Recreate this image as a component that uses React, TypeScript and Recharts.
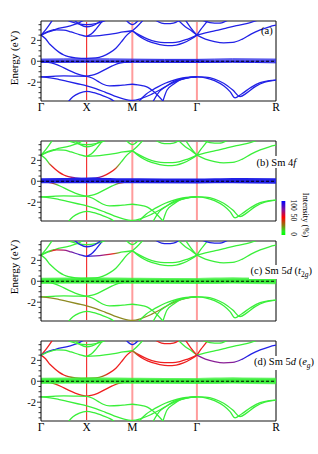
import React from 'react';
import { LineChart, Line, XAxis, YAxis, ReferenceLine } from 'recharts';

const FONT = '"Liberation Serif", "Times New Roman", serif';

// k-path positions (Γ-X-M-Γ-R, cubic)
const kG = 0, kX = 0.5, kM = 1.0, kG2 = 1.7071, kR = 2.5731;
const kTicks = [kG, kX, kM, kG2, kR];
const kLabels = ['Γ', 'X', 'M', 'Γ', 'R'];
const eTicks = [-3.5, -3, -2.5, -2, -1.5, -1, -0.5, 0, 0.5, 1, 1.5, 2, 2.5, 3, 3.5];
const eLabels = [-2, 0, 2];
const eDomain = [-3.8, 3.85];

// bands: [k, E(eV)]
const bandCB = [[0,2.5],[0.05,2.15],[0.1,1.6],[0.15,1.2],[0.2,0.85],[0.25,0.6],[0.3,0.44],[0.38,0.33],[0.5,0.28],[0.6,0.32],[0.68,0.5],[0.75,0.8],[0.82,1.25],[0.88,1.85],[0.94,2.5],[1.0,2.92]];
const bandVV = [[0,-0.05],[0.08,-0.1],[0.15,-0.25],[0.22,-0.5],[0.3,-0.85],[0.38,-1.15],[0.45,-1.35],[0.5,-1.42],[0.55,-1.35],[0.62,-1.15],[0.7,-0.8],[0.78,-0.45],[0.85,-0.2],[0.92,-0.1],[1.0,-0.05]];
const bandVF = [[0,-1.5],[0.12,-1.45],[0.25,-1.4],[0.38,-1.42],[0.5,-1.45],[0.56,-1.6],[0.62,-1.9],[0.68,-2.2],[0.75,-2.35],[0.85,-2.32],[0.93,-2.25],[1.0,-2.2],[1.06,-2.25],[1.12,-2.35],[1.17,-2.5],[1.22,-2.8],[1.28,-3.27],[1.35,-3.95]];
const bandV8 = [[0,-1.5],[0.1,-1.58],[0.2,-1.75],[0.3,-1.95],[0.4,-2.15],[0.5,-2.35],[0.6,-2.62],[0.7,-2.95],[0.8,-3.3],[0.9,-3.6],[1.0,-3.75],[1.1,-3.55],[1.2,-3.2],[1.3,-2.75],[1.4,-2.25],[1.5,-1.85],[1.6,-1.6],[1.7071,-1.5]];
const bandV3 = [[0.29,-3.95],[0.35,-3.4],[0.42,-3.05],[0.5,-2.88],[0.58,-3.0],[0.68,-3.3],[0.76,-3.6],[0.82,-3.95]];
const bandV4 = [[1.06,-3.95],[1.15,-3.15],[1.22,-2.75],[1.28,-2.45],[1.36,-2.1],[1.43,-1.87],[1.55,-1.6],[1.63,-1.52],[1.7071,-1.5]];
const bandV6 = [[1.22,-3.95],[1.3,-2.86],[1.38,-2.35],[1.45,-1.95],[1.55,-1.68],[1.63,-1.55],[1.7071,-1.5]];
const bandV7 = [[1.33,-3.95],[1.38,-2.75],[1.45,-2.2],[1.52,-1.78],[1.6,-1.58],[1.7071,-1.5]];
const bandR1 = [[1.7071,-1.5],[1.8,-1.58],[1.9,-1.85],[2.0,-2.35],[2.07,-2.9],[2.125,-3.5],[2.2,-3.1],[2.3,-2.5],[2.4,-2.05],[2.5,-1.85],[2.5731,-1.8]];
const bandR2 = [[1.7071,-1.5],[1.8,-1.52],[1.9,-1.7],[2.0,-2.1],[2.1,-2.75],[2.18,-3.38],[2.25,-3.05],[2.35,-2.4],[2.45,-2.0],[2.5731,-1.8]];
const bandCU1 = [[0,2.5],[0.05,3.0],[0.1,3.6],[0.13,4.0]];
const bandCU3 = [[0,2.5],[0.08,2.85],[0.16,3.06],[0.31,3.37],[0.42,3.69],[0.47,3.95]];
const bandCU2 = [[0,2.5],[0.08,2.8],[0.17,3.0],[0.25,2.98],[0.33,2.8],[0.42,2.55],[0.5,2.38],[0.6,2.42],[0.7,2.52],[0.8,2.65],[0.9,2.8],[1.0,2.92]];
const bandCXU = [[0.5,2.38],[0.55,2.6],[0.6,3.05],[0.65,3.6],[0.68,3.95]];
const bandCT1 = [[0.28,3.95],[0.4,3.6],[0.5,3.5],[0.6,3.6],[0.72,3.95]];
const bandCT2 = [[0.36,3.95],[0.43,3.5],[0.5,3.3],[0.56,3.38],[0.62,3.65],[0.66,3.95]];
const bandCTM = [[0.93,3.95],[1.0,3.5],[1.07,3.95]];
const bandCMU = [[1.0,2.92],[1.05,3.3],[1.12,3.95]];
const bandCMG1 = [[1.0,2.92],[1.08,2.5],[1.17,2.12],[1.26,1.88],[1.35,1.78],[1.44,1.78],[1.52,1.88],[1.6,2.1],[1.66,2.3],[1.7071,2.5]];
const bandCMG2 = [[1.0,2.92],[1.06,2.5],[1.13,2.1],[1.21,1.8],[1.3,1.6],[1.39,1.5],[1.48,1.55],[1.56,1.75],[1.64,2.1],[1.7071,2.5]];
const bandCTU1 = [[1.25,3.95],[1.32,3.65],[1.38,3.6],[1.45,3.65],[1.52,3.95]];
const bandCGU1 = [[1.5,3.95],[1.58,3.3],[1.65,2.9],[1.7071,2.5]];
const bandCGU2 = [[1.58,3.95],[1.64,3.2],[1.7071,2.5]];
const bandGR1 = [[1.7071,2.5],[1.75,3.05],[1.8,3.6],[1.83,3.95]];
const bandGR2 = [[1.7071,2.5],[1.8,2.72],[1.91,2.92],[2.02,3.15],[2.14,3.4],[2.25,3.6],[2.38,3.95]];
const bandGR3 = [[1.7071,2.5],[1.8,2.12],[1.9,1.88],[2.0,1.76],[2.1,1.8],[2.2,2.1],[2.3,2.6],[2.4,3.0],[2.5,3.3],[2.5731,3.45]];
const bandGRU = [[1.76,3.95],[1.85,3.7],[1.95,3.64],[2.05,3.95]];
const bandF1 = [[0,0.2],[0.25,0.22],[0.5,0.24],[0.75,0.22],[1.0,0.2],[1.35,0.18],[1.7071,0.18],[2.1,0.23],[2.5731,0.2]];
const bandF2 = [[0,0.11],[0.25,0.12],[0.5,0.14],[0.75,0.12],[1.0,0.11],[1.35,0.09],[1.7071,0.08],[2.1,0.13],[2.5731,0.1]];
const bandF3 = [[0,0.03],[0.5,0.05],[1.0,0.03],[1.35,0.02],[1.7071,0.0],[2.1,0.04],[2.5731,0.02]];
const bandF4 = [[0,-0.04],[0.5,-0.03],[1.0,-0.05],[1.7071,-0.06],[2.1,-0.03],[2.5731,-0.07]];
const bandF5 = [[0,-0.11],[0.5,-0.1],[1.0,-0.1],[1.7071,-0.12],[2.1,-0.1],[2.5731,-0.15]];
const fermi = [[0,0],[2.5731,0]];

const bandList: [string, number[][]][] = [
  ['CB', bandCB], ['VV', bandVV], ['VF', bandVF], ['V8', bandV8], ['V3', bandV3], ['V4', bandV4],
  ['V6', bandV6], ['V7', bandV7], ['R1', bandR1], ['R2', bandR2], ['CU1', bandCU1], ['CU3', bandCU3],
  ['CU2', bandCU2], ['CXU', bandCXU], ['CT1', bandCT1], ['CT2', bandCT2], ['CTM', bandCTM], ['CMU', bandCMU],
  ['CMG1', bandCMG1], ['CMG2', bandCMG2], ['CTU1', bandCTU1], ['CGU1', bandCGU1], ['CGU2', bandCGU2],
  ['GR1', bandGR1], ['GR2', bandGR2], ['GR3', bandGR3], ['GRU', bandGRU],
  ['F1', bandF1], ['F2', bandF2], ['F3', bandF3], ['F4', bandF4], ['F5', bandF5],
];

const BLUE = '#2121e6';
const GREEN = '#3aef3a';
const RED = '#ee1f1f';
const PURPLE = '#8a1f96';
const OLIVE = '#8e8a22';

type Spec = string | [number, string][];

const colorsB: Record<string, Spec> = {
  CB: [[0, GREEN], [0.07, GREEN], [0.12, RED], [0.27, RED], [0.35, PURPLE], [0.42, BLUE], [0.58, BLUE], [0.64, PURPLE], [0.7, RED], [0.8, RED], [0.88, GREEN], [1, GREEN]],
  VV: [[0, BLUE], [0.06, PURPLE], [0.11, RED], [0.2, GREEN], [0.8, GREEN], [0.89, RED], [0.94, PURPLE], [1, BLUE]],
};
const colorsC: Record<string, Spec> = {
  CU2: [[0, GREEN], [0.08, GREEN], [0.14, RED], [0.3, PURPLE], [0.5, BLUE], [0.65, PURPLE], [0.78, RED], [0.88, GREEN], [1, GREEN]],
  CXU: BLUE, CT2: BLUE, CTU1: BLUE, GRU: BLUE, V8: OLIVE,
};
const colorsD: Record<string, Spec> = {
  CB: [[0, RED], [0.25, RED], [0.36, OLIVE], [0.5, OLIVE], [0.64, OLIVE], [0.74, RED], [1, RED]],
  VV: [[0, OLIVE], [0.12, OLIVE], [0.2, RED], [0.8, RED], [0.88, OLIVE], [1, OLIVE]],
  CU1: RED, CU3: BLUE, CTM: BLUE, CTU1: RED, CGU2: RED, GR1: RED,
  CMG1: [[1.0, OLIVE], [1.08, RED], [1.7071, RED]],
  CMG2: [[1.0, OLIVE], [1.08, RED], [1.7071, RED]],
  GR3: [[1.7071, PURPLE], [2.1, PURPLE], [2.25, BLUE], [2.5731, BLUE]],
};

const YTick = (props: any) => {
  const { x, y, payload } = props;
  const v = payload.value;
  const major = eLabels.includes(v);
  return (
    <g>
      <line x1={x - (major ? 4 : 2.5)} x2={x} y1={y} y2={y} stroke="#000" strokeWidth={0.8} />
      {major && (
        <text x={x - 5} y={y} dy="0.35em" textAnchor="end" fontSize={10.5} fontFamily={FONT} fill="#000">
          {v}
        </text>
      )}
    </g>
  );
};

function Panel({ id, top, colors, mode, showX }: { id: string; top: number; colors: Record<string, Spec>; mode: string; showX: boolean }) {
  const grads: React.ReactNode[] = [];
  const lines: React.ReactNode[] = [];
  bandList.forEach(([name, pts]) => {
    const isF = name.startsWith('F');
    let spec: Spec = mode === 'a' ? BLUE : colors[name] ?? (isF && mode === 'b' ? BLUE : GREEN);
    let stroke: string;
    if (typeof spec === 'string') {
      stroke = spec;
    } else {
      const k0 = pts[0][0], k1 = pts[pts.length - 1][0];
      const gid = `g-${id}-${name}`;
      grads.push(
        <linearGradient key={gid} id={gid} x1="0" y1="0" x2="1" y2="0">
          {spec.map(([k, c], i) => (
            <stop key={i} offset={Math.min(1, Math.max(0, (k - k0) / (k1 - k0)))} stopColor={c} />
          ))}
        </linearGradient>
      );
      stroke = `url(#${gid})`;
    }
    let w = 1.3;
    let op = 1;
    if (isF) {
      if (mode === 'a') w = 1.0;
      else if (mode === 'b') w = 1.8;
      else { w = 3; op = 0.75; }
    }
    lines.push(
      <Line
        key={name}
        data={pts.map(([k, e]) => ({ k, e }))}
        dataKey="e"
        type="monotone"
        stroke={stroke}
        strokeWidth={w}
        strokeOpacity={op}
        dot={false}
        activeDot={false}
        isAnimationActive={false}
        legendType="none"
      />
    );
  });
  const mt = 5;
  const h = mt + 80 + (showX ? 16 : 5);
  return (
    <div style={{ position: 'absolute', left: 0, top: top - mt }}>
      <LineChart width={318} height={h} margin={{ top: mt, right: 42, bottom: showX ? 0 : 5, left: 0 }}>
        <defs>{grads}</defs>
        <XAxis
          type="number"
          dataKey="k"
          domain={[0, kR]}
          ticks={kTicks}
          interval={0}
          allowDataOverflow
          hide={!showX}
          height={showX ? 16 : 0}
          axisLine={false}
          tickLine={false}
          tickSize={0}
          tickMargin={2}
          tick={{ fontSize: 11.5, fill: '#000', fontFamily: FONT }}
          tickFormatter={(v: number) => kLabels[kTicks.findIndex((t) => Math.abs(t - v) < 1e-3)]}
        />
        <YAxis
          type="number"
          domain={eDomain}
          ticks={eTicks}
          interval={0}
          allowDataOverflow
          width={41}
          tickSize={0}
          tickMargin={0}
          tickLine={false}
          axisLine={{ stroke: '#000', strokeWidth: 1 }}
          tick={<YTick />}
        />
        <ReferenceLine x={kX} stroke="#f01010" strokeWidth={1} />
        <ReferenceLine x={kM} stroke="#ff9c9c" strokeWidth={2} />
        <ReferenceLine x={kG2} stroke="#ff9c9c" strokeWidth={2} />
        <ReferenceLine y={eDomain[1]} stroke="#8a8a8a" strokeWidth={2} />
        <ReferenceLine y={eDomain[0]} stroke="#8a8a8a" strokeWidth={2} />
        <ReferenceLine x={kR} stroke="#000" strokeWidth={1} />
        {lines}
        <Line
          data={fermi.map(([k, e]) => ({ k, e }))}
          dataKey="e"
          stroke="#000"
          strokeWidth={1}
          strokeDasharray="3 2"
          dot={false}
          activeDot={false}
          isAnimationActive={false}
        />
      </LineChart>
    </div>
  );
}

export default function App() {
  const txt = { fontFamily: FONT, fill: '#000' } as const;
  return (
    <div style={{ position: 'absolute', left: 0, top: 0, width: 318, height: 454, background: '#fff', overflow: 'hidden' }}>
      <Panel id="a" top={21} colors={{}} mode="a" showX />
      <Panel id="b" top={141} colors={colorsB} mode="b" showX={false} />
      <Panel id="c" top={241} colors={colorsC} mode="c" showX={false} />
      <Panel id="d" top={341} colors={colorsD} mode="d" showX />
      <svg width={318} height={454} style={{ position: 'absolute', left: 0, top: 0, pointerEvents: 'none' }}>
        <defs>
          <linearGradient id="cbar" x1="0" y1="0" x2="0" y2="1">
            <stop offset="0" stopColor="#0000ff" />
            <stop offset="0.25" stopColor="#8010a0" />
            <stop offset="0.48" stopColor="#ff0000" />
            <stop offset="0.72" stopColor="#8a7a10" />
            <stop offset="0.9" stopColor="#20f020" />
            <stop offset="1" stopColor="#00ff00" />
          </linearGradient>
        </defs>
        <text {...txt} fontSize={11} textAnchor="middle" dominantBaseline="central" transform="rotate(-90 14 58)" x={14} y={58}>Energy (eV)</text>
        <text {...txt} fontSize={11} textAnchor="middle" dominantBaseline="central" transform="rotate(-90 14 267)" x={14} y={267}>Energy (eV)</text>
        <text {...txt} fontSize={10.5} x={261} y={34}>(a)</text>
        <rect x={255} y={156} width={40} height={12} fill="#fff" />
        <text {...txt} fontSize={10.5} x={256.5} y={166}>(b) Sm 4<tspan fontStyle="italic">f</tspan></text>
        <rect x={249} y={265} width={60} height={14} fill="#fff" />
        <text {...txt} fontSize={10.5} x={250.5} y={274}>(c) Sm 5<tspan fontStyle="italic">d</tspan> (<tspan fontStyle="italic">t</tspan><tspan fontSize={7.5} dy={2.5}>2<tspan fontStyle="italic">g</tspan></tspan><tspan dy={-2.5}>)</tspan></text>
        <rect x={252} y={356} width={50} height={14} fill="#fff" />
        <text {...txt} fontSize={10.5} x={254} y={365}>(d) Sm 5<tspan fontStyle="italic">d</tspan> (<tspan fontStyle="italic">e</tspan><tspan fontSize={7.5} dy={2.5} fontStyle="italic">g</tspan><tspan dy={-2.5}>)</tspan></text>
        <rect x={281.5} y={201} width={3.8} height={34} fill="url(#cbar)" />
        <text {...txt} fontSize={7.5} textAnchor="middle" dominantBaseline="central" transform="rotate(90 293.5 205)" x={293.5} y={205}>100</text>
        <text {...txt} fontSize={7.5} textAnchor="middle" dominantBaseline="central" transform="rotate(90 293.5 217.5)" x={293.5} y={217.5}>50</text>
        <text {...txt} fontSize={7.5} textAnchor="middle" dominantBaseline="central" transform="rotate(90 293.5 234)" x={293.5} y={234}>0</text>
        <text {...txt} fontSize={8.5} textAnchor="middle" dominantBaseline="central" transform="rotate(90 306 215)" x={306} y={215}>Intensity (%)</text>
      </svg>
    </div>
  );
}
